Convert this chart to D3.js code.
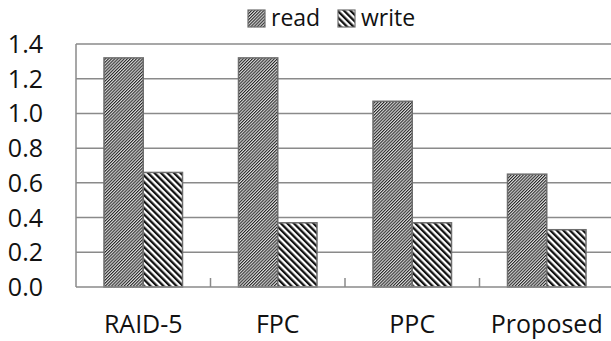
<!DOCTYPE html>
<html><head><meta charset="utf-8">
<script src="https://cdn.jsdelivr.net/npm/d3@7"></script>
<style>body{margin:0;background:#fff}svg{display:block}text{font-family:"Open Sans",sans-serif;fill:#111}</style>
</head><body>
<svg id="c" width="611" height="341"></svg>
<script>
const categories = ["RAID-5", "FPC", "PPC", "Proposed"];
const seriesNames = ["read", "write"];
const readValues = [1.32, 1.32, 1.07, 0.65];
const writeValues = [0.66, 0.37, 0.37, 0.33];
const yTicks = [0, 0.2, 0.4, 0.6, 0.8, 1.0, 1.2, 1.4];

const svg = d3.select("#c");
const m = {l: 76, t: 44, r: -3, b: 54};
const W = 611 - m.l - m.r, H = 341 - m.t - m.b;

const defs = svg.append("defs");
const p1 = defs.append("pattern").attr("id","pRead").attr("patternUnits","userSpaceOnUse")
  .attr("width",2.2).attr("height",10).attr("patternTransform","rotate(45)");
p1.append("rect").attr("width",2.2).attr("height",10).attr("fill","#dcdcdc");
p1.append("rect").attr("width",1.05).attr("height",10).attr("fill","#262626");
const p2 = defs.append("pattern").attr("id","pWrite").attr("patternUnits","userSpaceOnUse")
  .attr("width",4.6).attr("height",10).attr("patternTransform","rotate(-45)");
p2.append("rect").attr("width",4.6).attr("height",10).attr("fill","#fff");
p2.append("rect").attr("width",2.3).attr("height",10).attr("fill","#111");
const fills = ["url(#pRead)", "url(#pWrite)"];

const x = d3.scaleBand().domain(categories).range([0, W]).paddingInner(0).paddingOuter(0);
const xs = d3.scaleBand().domain(seriesNames).range([28, x.bandwidth()-28]);
const y = d3.scaleLinear().domain([0, 1.4]).range([H, 0]);

const g = svg.append("g").attr("transform",`translate(${m.l},${m.t})`);

// gridlines
g.selectAll(".grid").data(yTicks.slice(1)).join("line")
  .attr("x1",0).attr("x2",W).attr("y1",d=>y(d)).attr("y2",d=>y(d))
  .attr("stroke","#8a8a8a").attr("stroke-width",1.5);

// y labels
g.selectAll(".yl").data(yTicks).join("text")
  .attr("x",-33).attr("y",d=>y(d)).attr("dy","0.36em")
  .attr("text-anchor","end").attr("font-size",25).text(d=>d.toFixed(1));

// bars
const data = categories.map((c,i)=>({c, vals:[readValues[i], writeValues[i]]}));
const cg = g.selectAll(".cat").data(data).join("g").attr("transform",d=>`translate(${x(d.c)},0)`);
cg.selectAll("rect").data(d=>d.vals.map((v,j)=>({v,s:seriesNames[j],j}))).join("rect")
  .attr("x",d=>xs(d.s)).attr("width",xs.bandwidth())
  .attr("y",d=>y(d.v)).attr("height",d=>H-y(d.v))
  .attr("fill",d=>fills[d.j]).attr("stroke","#6e6e6e").attr("stroke-width",1.5);

// axes lines
g.append("line").attr("x1",0).attr("x2",0).attr("y1",0).attr("y2",H).attr("stroke","#8a8a8a").attr("stroke-width",1.5);
g.append("line").attr("x1",0).attr("x2",W).attr("y1",H).attr("y2",H).attr("stroke","#8a8a8a").attr("stroke-width",1.5);
g.selectAll(".tk").data(categories.slice(1)).join("line")
  .attr("x1",d=>x(d)).attr("x2",d=>x(d)).attr("y1",H).attr("y2",H-9)
  .attr("stroke","#8a8a8a").attr("stroke-width",1.5);

// x labels
g.selectAll(".xl").data(categories).join("text")
  .attr("x",d=>x(d)+x.bandwidth()/2).attr("y",H+46)
  .attr("text-anchor","middle").attr("font-size",25).text(d=>d);

// legend
const lg = svg.append("g");
const legX = [248, 338];
seriesNames.forEach((s,i)=>{
  lg.append("rect").attr("x",legX[i]).attr("y",10).attr("width",17).attr("height",17)
    .attr("fill",fills[i]).attr("stroke","#6e6e6e").attr("stroke-width",1.2);
  lg.append("text").attr("x",legX[i]+23).attr("y",26).attr("font-size",23).text(s);
});
</script>
</body></html>
